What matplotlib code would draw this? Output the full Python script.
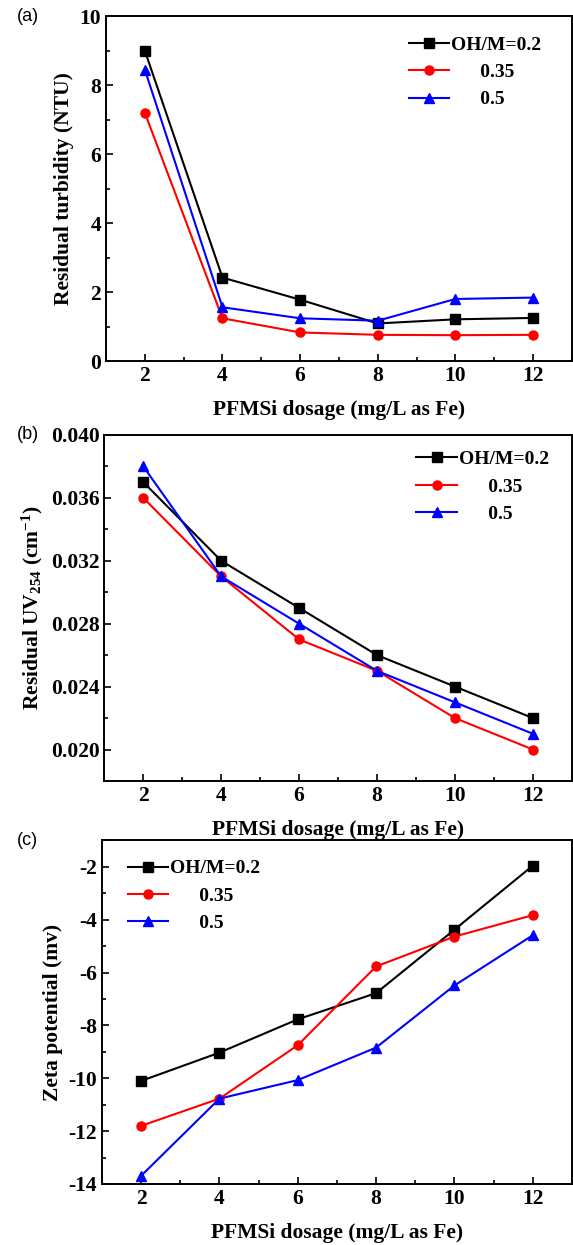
import matplotlib
matplotlib.use("Agg")
import matplotlib.pyplot as plt
from matplotlib.ticker import MultipleLocator, FormatStrFormatter

dosage = [2, 4, 6, 8, 10, 12]
labels = ["OH/M=0.2", "      0.35", "      0.5"]

turb_02 = [9.0, 2.42, 1.78, 1.09, 1.21, 1.25]
turb_035 = [7.2, 1.24, 0.83, 0.76, 0.75, 0.76]
turb_05 = [8.45, 1.56, 1.24, 1.17, 1.80, 1.84]

uv_02 = [0.037, 0.032, 0.029, 0.026, 0.024, 0.022]
uv_035 = [0.036, 0.031, 0.027, 0.025, 0.022, 0.020]
uv_05 = [0.038, 0.031, 0.028, 0.025, 0.023, 0.021]

zeta_02 = [-10.1, -9.03, -7.77, -6.78, -4.38, -1.96]
zeta_035 = [-11.8, -10.77, -8.75, -5.77, -4.64, -3.83]
zeta_05 = [-13.69, -10.77, -10.07, -8.84, -6.49, -4.59]

plt.rcParams['font.family'] = 'Liberation Serif'
plt.rcParams['font.weight'] = 'bold'
plt.rcParams['axes.unicode_minus'] = False
plt.rcParams['mathtext.fontset'] = 'custom'
plt.rcParams['mathtext.rm'] = 'Liberation Serif:bold'
plt.rcParams['mathtext.bf'] = 'Liberation Serif:bold'
plt.rcParams['mathtext.it'] = 'Liberation Serif:bold'
plt.rcParams['mathtext.default'] = 'bf'

colors = ['black', 'red', 'blue']
markers = ['s', 'o', '^']

fig = plt.figure(figsize=(5.73, 12.45), dpi=100)
ax_a = fig.add_axes([0.185, 0.710, 0.813, 0.277])
ax_b = fig.add_axes([0.182, 0.3727, 0.816, 0.278])
ax_c = fig.add_axes([0.178, 0.049, 0.820, 0.276])

panels = [
    (ax_a, [turb_02, turb_035, turb_05], "Residual turbidity (NTU)", (0, 10), 2, 1, (0.633, 0.965), "(a)"),
    (ax_b, [uv_02, uv_035, uv_05], r"Residual UV$_{254}$ (cm$^{-1}$)", (0.018, 0.040), 0.004, 0.002, (0.651, 0.977), "(b)"),
    (ax_c, [zeta_02, zeta_035, zeta_05], "Zeta potential (mv)", (-14, -1), 2, 1, (0.038, 0.966), "(c)"),
]

for ax, series, ylab, ylim, major, minor, anchor, tag in panels:
    for ys, c, m, lab in zip(series, colors, markers, labels):
        ax.plot(dosage, ys, color=c, marker=m, markersize=6.5, linewidth=1.5, label=lab)
    ax.set_xlim(1, 13)
    ax.set_ylim(*ylim)
    ax.xaxis.set_major_locator(MultipleLocator(2))
    ax.xaxis.set_minor_locator(MultipleLocator(1))
    ax.yaxis.set_major_locator(MultipleLocator(major))
    ax.yaxis.set_minor_locator(MultipleLocator(minor))
    ax.tick_params(which='both', direction='in', labelsize=15.5)
    ax.tick_params(which='major', length=5, width=1.2)
    ax.tick_params(which='minor', length=3, width=1.2)
    if tag == "(b)":
        ax.yaxis.set_major_formatter(FormatStrFormatter('%.3f'))
    ax.set_xlabel("PFMSi dosage (mg/L as Fe)", fontsize=15.5, fontweight='bold', labelpad=10)
    ax.set_ylabel(ylab, fontsize=15.5, fontweight='bold')
    for s in ax.spines.values():
        s.set_linewidth(1.4)
    ax.legend(loc='upper left', bbox_to_anchor=anchor, borderaxespad=0, frameon=False,
              fontsize=14, handlelength=2.1, handletextpad=0.1, labelspacing=0.5)
    pos = ax.get_position()
    fig.text(0.03, pos.y1, tag, fontsize=13, family='Liberation Sans', fontweight='normal', va='center')

fig.savefig("out.png", dpi=100)
